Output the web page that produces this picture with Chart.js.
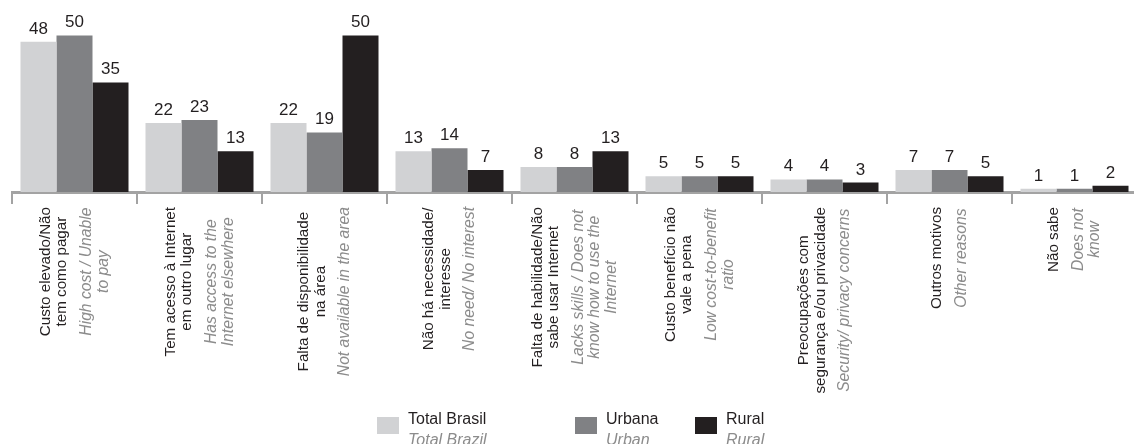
<!DOCTYPE html>
<html>
<head>
<meta charset="utf-8">
<script src="https://cdn.jsdelivr.net/npm/chart.js@4"></script>
<style>
  body { margin: 0; overflow: hidden; background: #fff; }
  #wrap { position: relative; width: 1140px; height: 444px; }
</style>
</head>
<body>
<div id="wrap"><canvas id="reasonsChart"></canvas></div>
<script>
// categorias (português / inglês)
let categoriesPt = [
  ['Custo elevado/Não', 'tem como pagar'],
  ['Tem acesso à Internet', 'em outro lugar'],
  ['Falta de disponibilidade', 'na área'],
  ['Não há necessidade/', 'interesse'],
  ['Falta de habilidade/Não', 'sabe usar Internet'],
  ['Custo benefício não', 'vale a pena'],
  ['Preocupações com', 'segurança e/ou privacidade'],
  ['Outros motivos'],
  ['Não sabe']
];
let categoriesEn = [
  ['High cost / Unable', 'to pay'],
  ['Has access to the', 'Internet elsewhere'],
  ['Not available in the area'],
  ['No need/ No interest'],
  ['Lacks skills / Does not', 'know how to use the', 'Internet'],
  ['Low cost-to-benefit', 'ratio'],
  ['Security/ privacy concerns'],
  ['Other reasons'],
  ['Does not', 'know']
];

let seriesPt = ['Total Brasil', 'Urbana', 'Rural'];
let seriesEn = ['Total Brazil', 'Urban', 'Rural'];

let totalBrasil = [48, 22, 22, 13, 8, 5, 4, 7, 1];
let urbana = [50, 23, 19, 14, 8, 5, 4, 7, 1];
let rural = [35, 13, 50, 7, 13, 5, 3, 5, 2];

let colors = ['#d1d2d4', '#808184', '#231f20'];

const FONT = '"Liberation Sans", Arial, sans-serif';

let labelsPlugin = {
  id: 'labelsPlugin',
  afterDraw(chart) {
    let ctx = chart.ctx;
    let xScale = chart.scales.x;
    ctx.save();

    // valores acima das barras
    ctx.font = '17px ' + FONT;
    ctx.fillStyle = '#231f20';
    ctx.textAlign = 'center';
    ctx.textBaseline = 'alphabetic';
    chart.data.datasets.forEach((ds, d) => {
      chart.getDatasetMeta(d).data.forEach((bar, i) => {
        ctx.fillText(String(ds.data[i]), bar.x, bar.y - 8);
      });
    });

    // rótulos das categorias, girados
    let ptFont = '15.2px ' + FONT;
    let enFont = 'italic 15.7px ' + FONT;
    categoriesPt.forEach((pt, i) => {
      let en = categoriesEn[i];
      let lines = [];
      let p = 0;
      pt.forEach((t, k) => {
        if (k > 0) p += 16.5;
        lines.push({ t: t, pos: p, en: false });
      });
      en.forEach((t, k) => {
        p += k === 0 ? 24.5 : 16.5;
        lines.push({ t: t, pos: p, en: true });
      });
      let maxW = 0;
      lines.forEach(l => {
        ctx.font = l.en ? enFont : ptFont;
        maxW = Math.max(maxW, ctx.measureText(l.t).width);
      });
      let cx = xScale.getPixelForValue(i);
      let yc = 207 + maxW / 2;
      lines.forEach(l => {
        ctx.save();
        ctx.translate(cx - p / 2 + l.pos, yc);
        ctx.rotate(-Math.PI / 2);
        ctx.font = l.en ? enFont : ptFont;
        ctx.fillStyle = l.en ? '#8c8c8c' : '#231f20';
        ctx.textAlign = 'center';
        ctx.textBaseline = 'middle';
        ctx.fillText(l.t, 0, 0);
        ctx.restore();
      });
    });

    // legenda
    let legendX = [377, 575, 695];
    ctx.textAlign = 'left';
    ctx.textBaseline = 'alphabetic';
    seriesPt.forEach((name, s) => {
      ctx.fillStyle = colors[s];
      ctx.fillRect(legendX[s], 417, 22, 17);
      ctx.font = '16px ' + FONT;
      ctx.fillStyle = '#231f20';
      ctx.fillText(name, legendX[s] + 31, 423.5);
      ctx.font = 'italic 16px ' + FONT;
      ctx.fillStyle = '#8c8c8c';
      ctx.fillText(seriesEn[s], legendX[s] + 31, 444.5);
    });

    ctx.restore();
  }
};

let ctx = document.getElementById('reasonsChart').getContext('2d');
new Chart(ctx, {
  type: 'bar',
  data: {
    labels: categoriesPt.map(c => c.join(' ')),
    datasets: [
      { label: seriesPt[0], data: totalBrasil, backgroundColor: colors[0] },
      { label: seriesPt[1], data: urbana, backgroundColor: colors[1] },
      { label: seriesPt[2], data: rural, backgroundColor: colors[2] }
    ]
  },
  options: {
    responsive: true,
    maintainAspectRatio: false,
    animation: false,
    datasets: {
      bar: { categoryPercentage: 0.864, barPercentage: 1 }
    },
    layout: {
      padding: { top: 0, left: 12, right: 3, bottom: 240 }
    },
    plugins: {
      legend: { display: false },
      tooltip: { enabled: false }
    },
    scales: {
      x: {
        grid: {
          offset: true,
          drawOnChartArea: false,
          tickLength: 12,
          color: '#a3a3a3',
          lineWidth: 2
        },
        border: { display: true, color: '#a3a3a3', width: 3 },
        ticks: { display: false }
      },
      y: {
        display: false,
        min: 0,
        max: 61.3
      }
    }
  },
  plugins: [labelsPlugin]
});
</script>
</body>
</html>
